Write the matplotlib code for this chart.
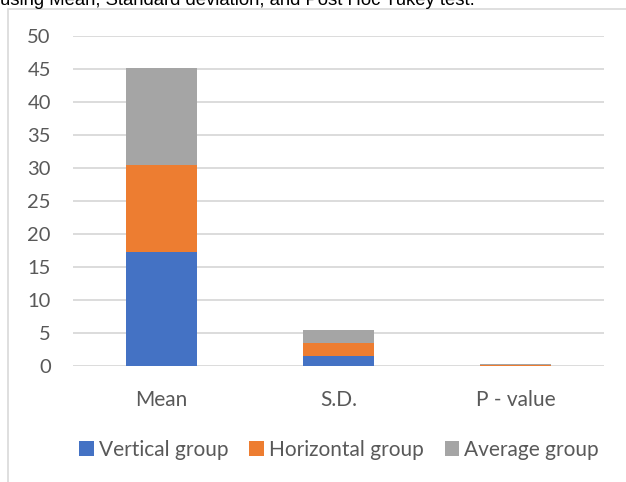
import matplotlib.pyplot as plt
from matplotlib.patches import Rectangle

categories = ['Mean', 'S.D.', 'P - value']
vertical = [17.2, 1.5, 0.05]
horizontal = [13.3, 2.0, 0.05]
average = [14.6, 2.0, 0.2]
series_names = ['Vertical group', 'Horizontal group', 'Average group']
yticks = [0, 5, 10, 15, 20, 25, 30, 35, 40, 45, 50]

colors = ['#4472C4', '#ED7D31', '#A5A5A5']
text_col = '#595959'

plt.rcParams['font.family'] = ['Lato', 'DejaVu Sans']

fig = plt.figure(figsize=(6.26, 4.82), dpi=100)
ax = fig.add_axes([73 / 626, 1 - 366 / 482, 531 / 626, 330 / 482])

x = range(len(categories))
bottom2 = [a + b for a, b in zip(vertical, horizontal)]
ax.bar(x, vertical, width=0.4, color=colors[0], label=series_names[0], zorder=3)
ax.bar(x, horizontal, width=0.4, bottom=vertical, color=colors[1], label=series_names[1], zorder=3)
ax.bar(x, average, width=0.4, bottom=bottom2, color=colors[2], label=series_names[2], zorder=3)

ax.set_xlim(-0.5, 2.5)
ax.set_ylim(0, 50)
ax.set_yticks(yticks)
ax.set_xticks(list(x))
ax.set_xticklabels(categories)
ax.grid(axis='y', color='#D9D9D9', linewidth=1.3, zorder=0)
for s in ax.spines.values():
    s.set_visible(False)
ax.tick_params(length=0, colors=text_col)
ax.tick_params(axis='x', pad=17, labelsize=15)
ax.tick_params(axis='y', pad=16, labelsize=14.5)

fig.legend(loc='center', bbox_to_anchor=(339 / 626, 1 - 450 / 482), ncol=3,
           frameon=False, fontsize=15, handlelength=0.7, handleheight=0.7,
           handletextpad=0.25, columnspacing=1.0, labelcolor=text_col)

# chart border
fig.patches.append(Rectangle((8 / 626, -0.1), 1.1, 1.1 - 9 / 482,
                             transform=fig.transFigure, fill=False,
                             edgecolor='#D9D9D9', linewidth=1.2))

fig.text(0.0, 1 - 5 / 482, 'using Mean, Standard deviation, and Post Hoc Tukey test.',
         family='Liberation Sans', fontsize=13.3, color='black', va='baseline', ha='left')

fig.savefig('out.png', dpi=100)
